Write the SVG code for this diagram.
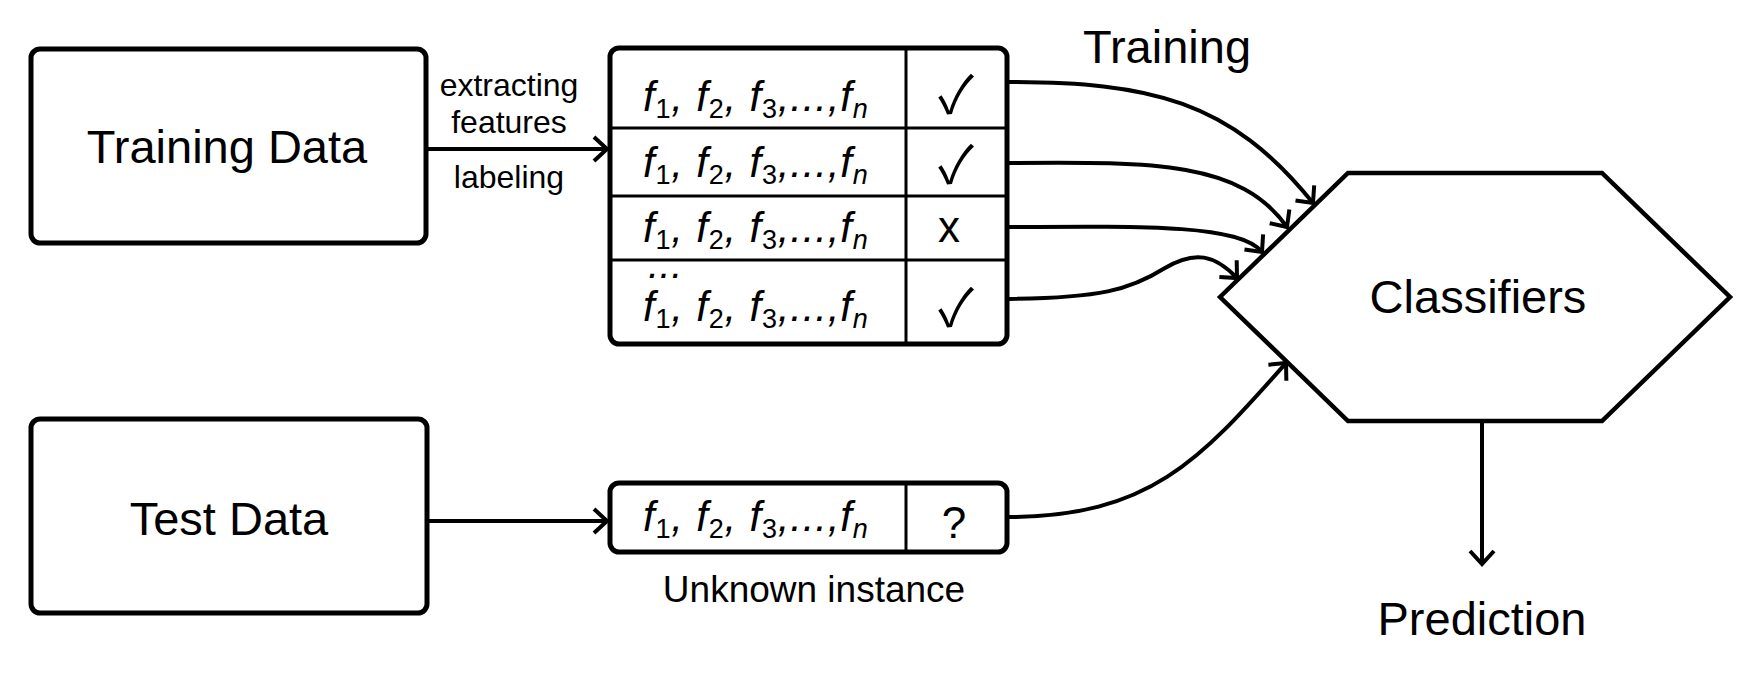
<svg xmlns="http://www.w3.org/2000/svg" width="1762" height="678" viewBox="0 0 1762 678">
<defs>
<style>
.box{fill:#fff;stroke:#000;stroke-width:5}
.hex{fill:#fff;stroke:#000;stroke-width:4.5;stroke-linejoin:miter}
.grid{stroke:#000;stroke-width:3;fill:none}
.conn{fill:none;stroke:#000;stroke-width:4;marker-end:url(#arr)}
.t{font-family:"Liberation Sans",Arial,sans-serif;fill:#000}
.big{font-size:47px;text-anchor:middle}
.lbl{font-size:47px;text-anchor:middle}
.sm{font-size:32px;text-anchor:middle}
.mid{font-size:37px;text-anchor:middle}
.f{font-family:"Liberation Sans",Arial,sans-serif;font-size:42px;font-style:italic;fill:#000;letter-spacing:0.8px}
.sub{font-size:27px;font-style:normal}
.subi{font-size:27px;font-style:italic}
.dots{font-family:"Liberation Sans",Arial,sans-serif;font-size:40px;font-style:italic;fill:#000;letter-spacing:0.5px}
.mark{font-family:"Noto Sans CJK JP","DejaVu Sans",sans-serif;font-size:52px;text-anchor:middle;fill:#000}
.sym{font-family:"Liberation Sans",Arial,sans-serif;font-size:44px;text-anchor:middle;fill:#000}
</style>
<marker id="arr" markerUnits="userSpaceOnUse" markerWidth="40" markerHeight="40" refX="0" refY="0" viewBox="-20 -20 40 40" orient="auto" overflow="visible">
<path d="M-13,-12 L0,0 L-13,12" fill="none" stroke="#000" stroke-width="4" stroke-linecap="butt" stroke-linejoin="miter"/>
</marker>
</defs>
<rect width="1762" height="678" fill="#fff"/>

<g id="connectors">
<path class="conn" d="M426,149 L607,149"/>
<path class="conn" d="M427,521 L607,521"/>
<path class="conn" d="M1007,82 C1150,82 1230,100 1313,203"/>
<path class="conn" d="M1007,163 C1150,162 1240,160 1287,227"/>
<path class="conn" d="M1007,227 C1150,226 1240,225 1262,252"/>
<path class="conn" d="M1007,299 C1100,298 1130,290 1165,268 C1195,250 1215,255 1237,278"/>
<path class="conn" d="M1007,517 C1150,517 1200,460 1286,363"/>
<path class="conn" d="M1482,421 L1482,564"/>
</g>

<g id="training-data">
<rect class="box" x="31" y="49" width="395" height="194" rx="9"/>
<text class="t big" x="227" y="163">Training Data</text>
</g>

<g id="test-data">
<rect class="box" x="31" y="419" width="396" height="194" rx="9"/>
<text class="t big" x="229" y="535">Test Data</text>
</g>

<g id="edge-labels">
<text class="t sm" x="509" y="96">extracting</text>
<text class="t sm" x="509" y="133">features</text>
<text class="t sm" x="509" y="188">labeling</text>
</g>

<g id="training-table">
<rect class="box" x="610" y="48" width="397" height="296" rx="9"/>
<line class="grid" x1="610" y1="128" x2="1007" y2="128"/>
<line class="grid" x1="610" y1="196" x2="1007" y2="196"/>
<line class="grid" x1="610" y1="260" x2="1007" y2="260"/>
<line class="grid" x1="906" y1="48" x2="906" y2="344"/>
<text class="f" x="643" y="111">f<tspan class="sub" dy="7">1</tspan><tspan dy="-7">, f</tspan><tspan class="sub" dy="7">2</tspan><tspan dy="-7">, f</tspan><tspan class="sub" dy="7">3</tspan><tspan dy="-7">,...,f</tspan><tspan class="subi" dy="7">n</tspan></text>
<text class="f" x="643" y="177">f<tspan class="sub" dy="7">1</tspan><tspan dy="-7">, f</tspan><tspan class="sub" dy="7">2</tspan><tspan dy="-7">, f</tspan><tspan class="sub" dy="7">3</tspan><tspan dy="-7">,...,f</tspan><tspan class="subi" dy="7">n</tspan></text>
<text class="f" x="643" y="242">f<tspan class="sub" dy="7">1</tspan><tspan dy="-7">, f</tspan><tspan class="sub" dy="7">2</tspan><tspan dy="-7">, f</tspan><tspan class="sub" dy="7">3</tspan><tspan dy="-7">,...,f</tspan><tspan class="subi" dy="7">n</tspan></text>
<text class="dots" x="648" y="278">...</text>
<text class="f" x="643" y="321">f<tspan class="sub" dy="7">1</tspan><tspan dy="-7">, f</tspan><tspan class="sub" dy="7">2</tspan><tspan dy="-7">, f</tspan><tspan class="sub" dy="7">3</tspan><tspan dy="-7">,...,f</tspan><tspan class="subi" dy="7">n</tspan></text>
<text class="mark" x="956" y="113">✓</text>
<text class="mark" x="956" y="183">✓</text>
<text class="sym" x="949" y="242">x</text>
<text class="mark" x="956" y="326">✓</text>
</g>

<g id="unknown-instance">
<rect class="box" x="610" y="483" width="397" height="69" rx="9"/>
<line class="grid" x1="906" y1="483" x2="906" y2="552"/>
<text class="f" x="643" y="531">f<tspan class="sub" dy="7">1</tspan><tspan dy="-7">, f</tspan><tspan class="sub" dy="7">2</tspan><tspan dy="-7">, f</tspan><tspan class="sub" dy="7">3</tspan><tspan dy="-7">,...,f</tspan><tspan class="subi" dy="7">n</tspan></text>
<text class="sym" x="954" y="538">?</text>
<text class="t mid" x="814" y="602">Unknown instance</text>
</g>

<g id="classifiers">
<polygon class="hex" points="1220,297 1348,173 1602,173 1730,297 1602,421 1348,421"/>
<text class="t big" x="1478" y="313">Classifiers</text>
</g>

<g id="labels">
<text class="t lbl" x="1167" y="63">Training</text>
<text class="t lbl" x="1482" y="635">Prediction</text>
</g>
</svg>
